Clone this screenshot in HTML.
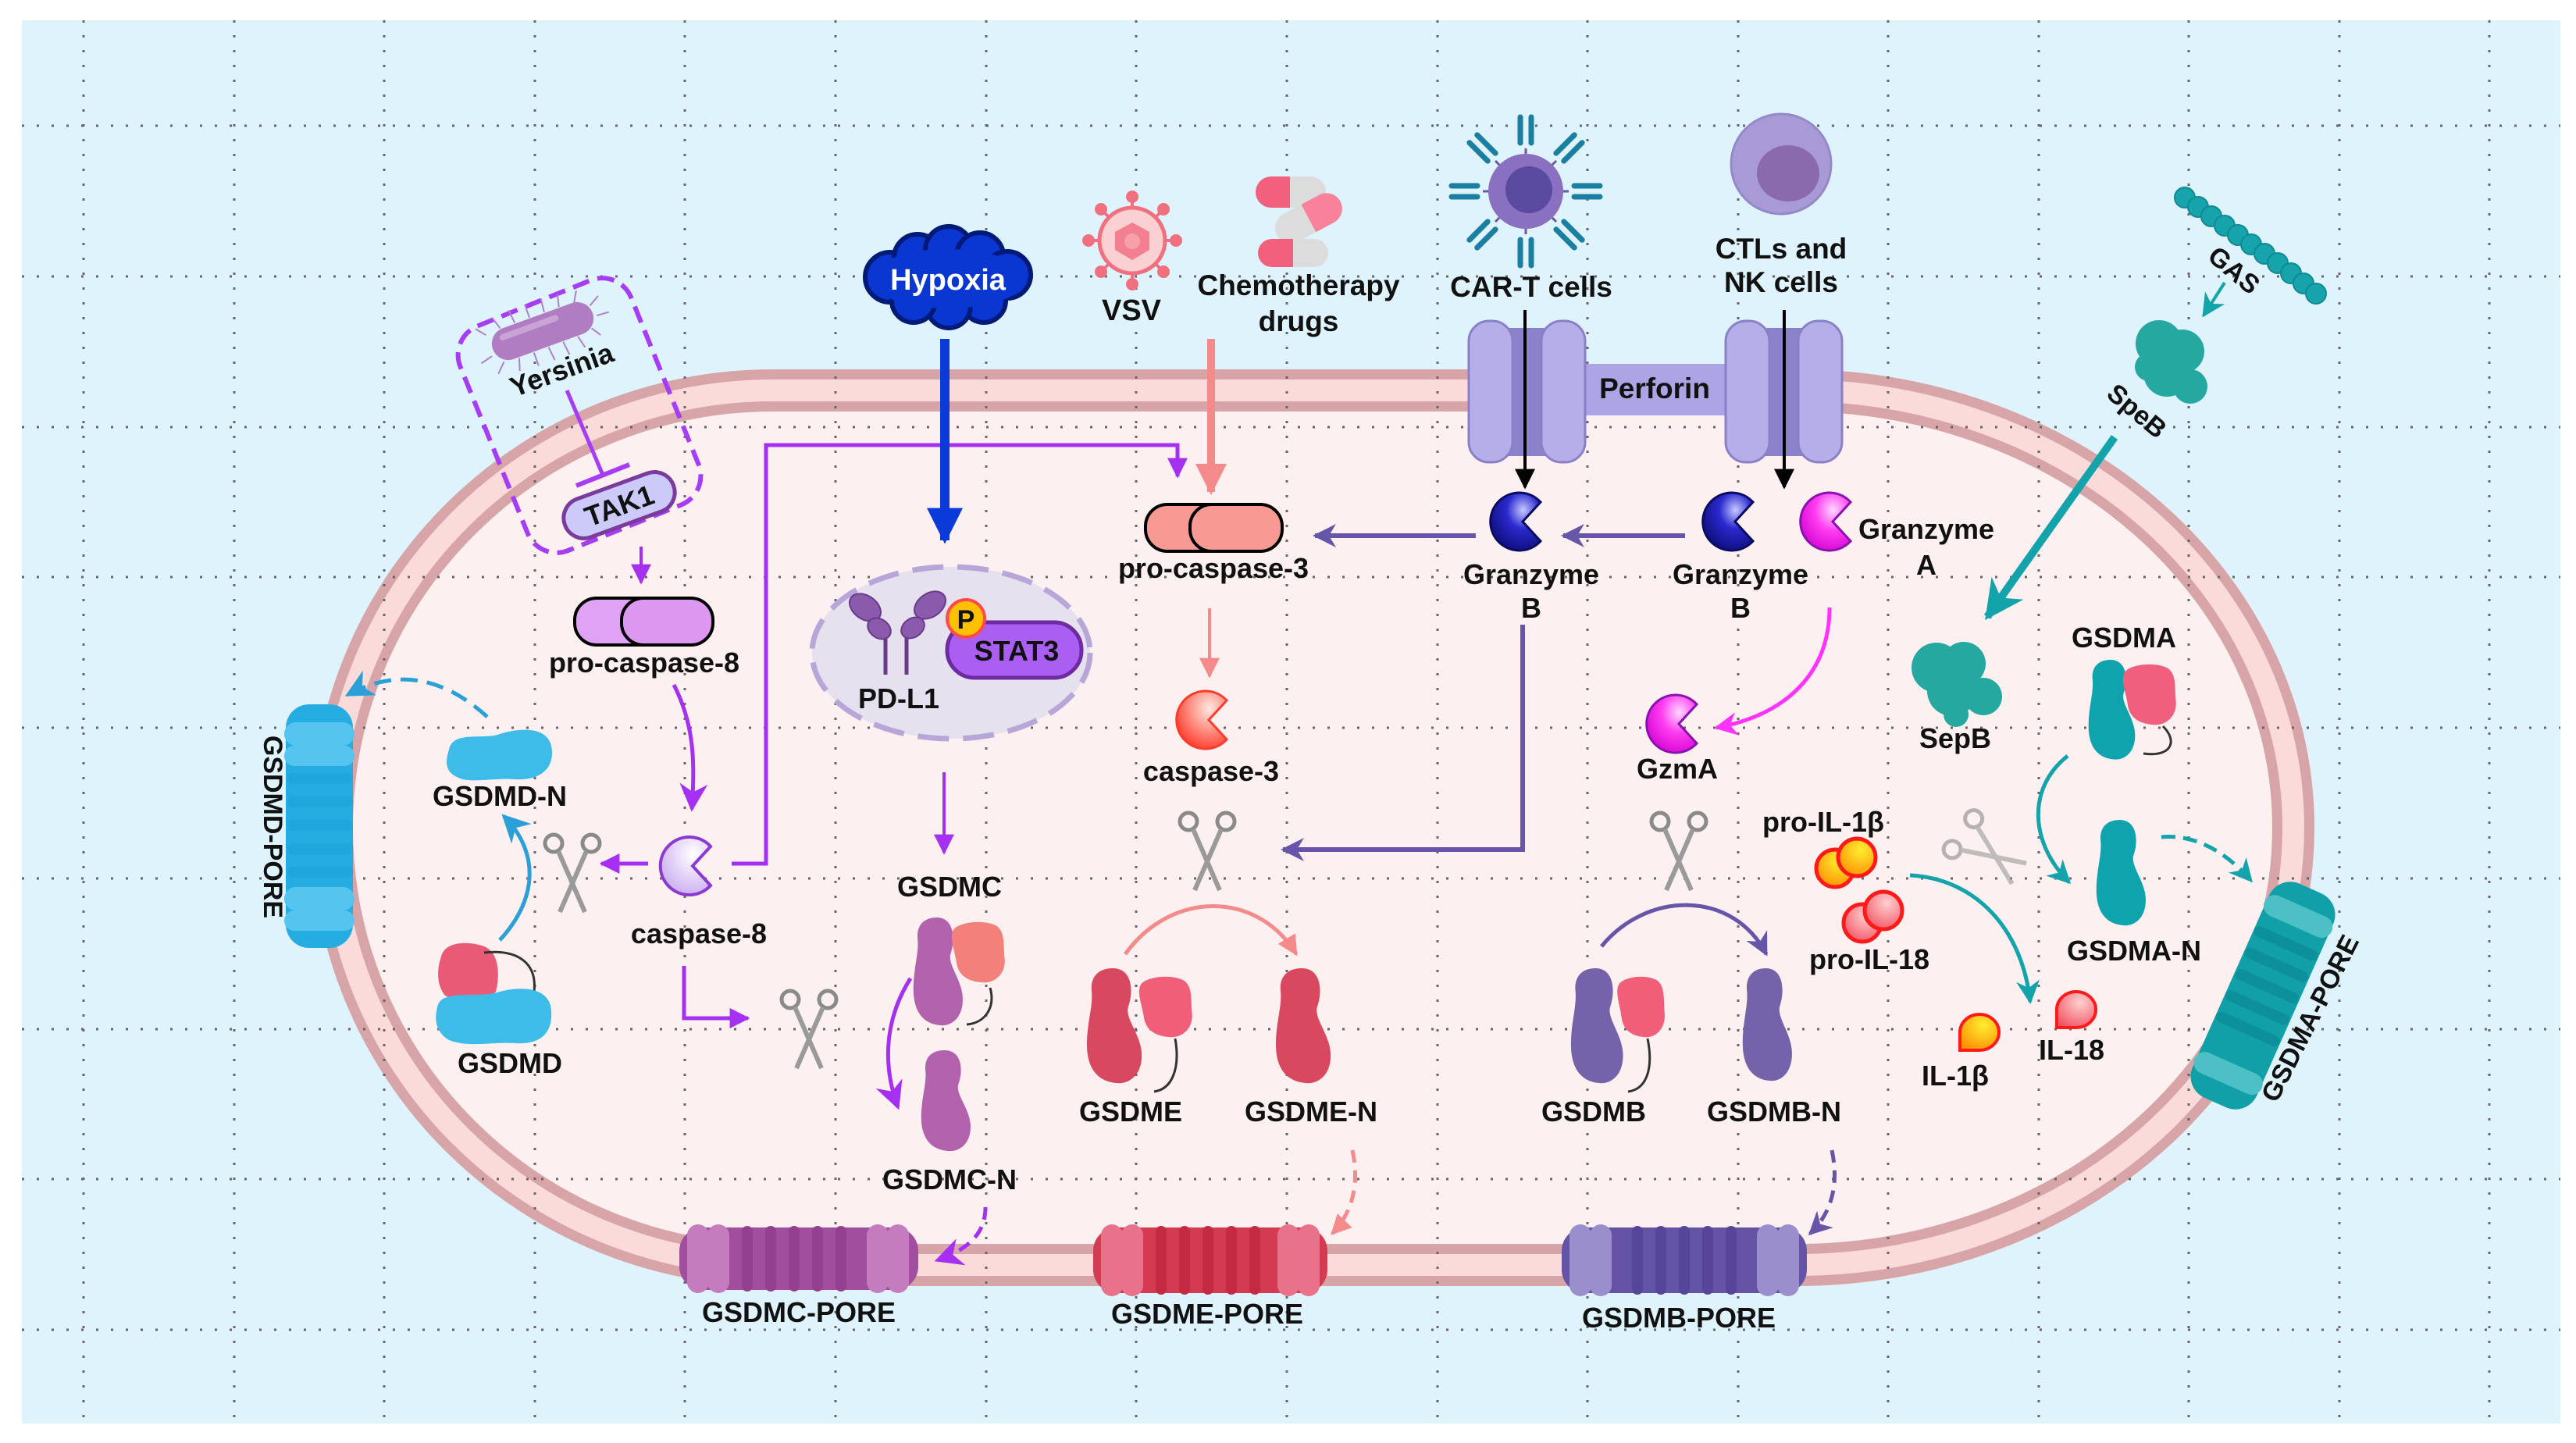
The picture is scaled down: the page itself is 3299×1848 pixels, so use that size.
<!DOCTYPE html>
<html><head><meta charset="utf-8"><style>
html,body{margin:0;padding:0;background:#fff}
svg{display:block}
text{font-family:"Liberation Sans",Arial,sans-serif;font-weight:bold;fill:#111;text-anchor:middle}
</style></head><body>
<svg width="3299" height="1848" viewBox="0 0 3299 1848" xmlns="http://www.w3.org/2000/svg">
<defs>
<marker id="mPur" viewBox="0 0 10 10" refX="9" refY="5" markerWidth="26" markerHeight="26" markerUnits="userSpaceOnUse" orient="auto"><path d="M0,0 L10,5 L0,10 Z" fill="#a530f2"/></marker>
<marker id="mPurB" viewBox="0 0 10 10" refX="9" refY="5" markerWidth="36" markerHeight="36" markerUnits="userSpaceOnUse" orient="auto"><path d="M0,0 L10,5 L0,10 L3,5 Z" fill="#a530f2"/></marker>
<marker id="mBlue" viewBox="0 0 10 10" refX="9" refY="5" markerWidth="46" markerHeight="46" markerUnits="userSpaceOnUse" orient="auto"><path d="M0,0 L10,5 L0,10 Z" fill="#0a3ad8"/></marker>
<marker id="mPink" viewBox="0 0 10 10" refX="9" refY="5" markerWidth="40" markerHeight="40" markerUnits="userSpaceOnUse" orient="auto"><path d="M0,0 L10,5 L0,10 Z" fill="#f58a8a"/></marker>
<marker id="mPinkS" viewBox="0 0 10 10" refX="9" refY="5" markerWidth="26" markerHeight="26" markerUnits="userSpaceOnUse" orient="auto"><path d="M0,0 L10,5 L0,10 Z" fill="#f58a8a"/></marker>
<marker id="mBlk" viewBox="0 0 10 10" refX="9" refY="5" markerWidth="26" markerHeight="26" markerUnits="userSpaceOnUse" orient="auto"><path d="M0,0 L10,5 L0,10 Z" fill="#000"/></marker>
<marker id="mDP" viewBox="0 0 10 10" refX="9" refY="5" markerWidth="30" markerHeight="30" markerUnits="userSpaceOnUse" orient="auto"><path d="M0,0 L10,5 L0,10 L3,5 Z" fill="#6655a8"/></marker>
<marker id="mMag" viewBox="0 0 10 10" refX="9" refY="5" markerWidth="30" markerHeight="30" markerUnits="userSpaceOnUse" orient="auto"><path d="M0,0 L10,5 L0,10 L3,5 Z" fill="#ff33ff"/></marker>
<marker id="mTeal" viewBox="0 0 10 10" refX="9" refY="5" markerWidth="30" markerHeight="30" markerUnits="userSpaceOnUse" orient="auto"><path d="M0,0 L10,5 L0,10 L3,5 Z" fill="#13a3ab"/></marker>
<marker id="mTealB" viewBox="0 0 10 10" refX="9" refY="5" markerWidth="50" markerHeight="50" markerUnits="userSpaceOnUse" orient="auto"><path d="M0,0 L10,5 L0,10 L3,5 Z" fill="#13a3ab"/></marker>
<marker id="mSky" viewBox="0 0 10 10" refX="9" refY="5" markerWidth="36" markerHeight="36" markerUnits="userSpaceOnUse" orient="auto"><path d="M0,0 L10,5 L0,10 L3,5 Z" fill="#2a9fd8"/></marker>
<radialGradient id="gB" cx="0.65" cy="0.3" r="0.8"><stop offset="0" stop-color="#c8c8ff"/><stop offset="0.4" stop-color="#2a2ad0"/><stop offset="1" stop-color="#0a0a70"/></radialGradient>
<radialGradient id="gA" cx="0.65" cy="0.3" r="0.8"><stop offset="0" stop-color="#ffd8ff"/><stop offset="0.45" stop-color="#ff3cf0"/><stop offset="1" stop-color="#d000d0"/></radialGradient>
<radialGradient id="g8" cx="0.65" cy="0.3" r="0.8"><stop offset="0" stop-color="#ffffff"/><stop offset="1" stop-color="#c8a8f0"/></radialGradient>
<radialGradient id="g3" cx="0.65" cy="0.3" r="0.8"><stop offset="0" stop-color="#ffe8e0"/><stop offset="1" stop-color="#ff3020"/></radialGradient>
<radialGradient id="gY" cx="0.6" cy="0.3" r="0.8"><stop offset="0" stop-color="#ffee30"/><stop offset="1" stop-color="#ff8a00"/></radialGradient>
<radialGradient id="gR" cx="0.6" cy="0.3" r="0.8"><stop offset="0" stop-color="#ffd0d0"/><stop offset="1" stop-color="#f05060"/></radialGradient>
<path id="pac" d="M27,-25 A37,37 0 1 0 27,25 L4,0 Z"/>
<g id="sc" fill="none" stroke="#8a8a8a" stroke-width="5">
 <circle cx="-24" cy="-38" r="11"/><circle cx="24" cy="-38" r="11"/>
 <path d="M-18,-28 L16,50 M18,-28 L-16,50" stroke="#9a9a9a" stroke-width="6"/>
</g>
<path id="nl" d="M35,0 C60,0 62,30 55,50 C50,65 70,85 72,110 C74,140 55,152 40,150 C15,148 2,130 2,100 C2,70 10,50 8,30 C6,10 18,0 35,0 Z"/>
<path id="cl" d="M0,10 C10,0 40,-2 55,5 C70,12 66,35 68,50 C70,70 55,85 35,82 C15,80 5,70 3,55 C1,40 -8,20 0,10 Z"/>
</defs>

<rect x="0" y="0" width="3299" height="1848" fill="#fff"/>
<rect x="28" y="26" width="3251" height="1797" fill="#dff3fd"/>

<path d="M990,500 L2300,500 A637,560 0 0 1 2300,1620 L990,1620 A565,560 0 0 1 990,500 Z" fill="#fdf0f0" stroke="#d7a5a7" stroke-width="54"/>
<path d="M990,500 L2300,500 A637,560 0 0 1 2300,1620 L990,1620 A565,560 0 0 1 990,500 Z" fill="none" stroke="#fbdada" stroke-width="28"/>

<g stroke="#666" stroke-width="3" stroke-dasharray="3 16" fill="none">
<path d="M107,26V1823 M300,26V1823 M492,26V1823 M685,26V1823 M877,26V1823 M1070,26V1823 M1263,26V1823 M1455,26V1823 M1648,26V1823 M1841,26V1823 M2033,26V1823 M2226,26V1823 M2418,26V1823 M2611,26V1823 M2803,26V1823 M2996,26V1823 M3188,26V1823"/>
<path d="M28,161H3279 M28,354H3279 M28,547H3279 M28,739H3279 M28,932H3279 M28,1125H3279 M28,1318H3279 M28,1510H3279 M28,1703H3279"/>
</g>

<g transform="translate(742,532) rotate(-22)">
<rect x="-118" y="-155" width="236" height="310" rx="40" fill="none" stroke="#a63cf5" stroke-width="6" stroke-dasharray="22 11"/>
</g>
<g transform="translate(695,424) rotate(-20)">
 <g stroke="#b080c8" stroke-width="2">
 <path d="M-70,-20 L-80,-32 M-50,-22 L-55,-38 M-30,-22 L-32,-40 M-10,-22 L-10,-40 M10,-22 L12,-40 M30,-22 L34,-38 M50,-20 L58,-34 M68,-10 L82,-18 M72,5 L88,6 M-72,8 L-88,12 M-60,20 L-72,32 M-40,22 L-45,38 M-20,22 L-20,40 M0,22 L2,40 M20,22 L22,40 M40,22 L44,38 M60,18 L68,30"/>
 </g>
 <rect x="-68" y="-21" width="136" height="42" rx="21" fill="#b07dc2"/>
 <rect x="-55" y="-14" width="80" height="8" rx="4" fill="#c9a2d6"/>
</g>
<text x="719" y="486" font-size="36" transform="rotate(-20 719 473)">Yersinia</text>
<line x1="726" y1="500" x2="771" y2="606" stroke="#a63cf5" stroke-width="5"/>
<line x1="738" y1="622" x2="806" y2="595" stroke="#a63cf5" stroke-width="6"/>
<g transform="translate(793,647) rotate(-20)">
<rect x="-74" y="-26" width="148" height="52" rx="26" fill="#cbcaf8" stroke="#7a3a9e" stroke-width="5"/>
</g>
<text x="793" y="660" font-size="36" transform="rotate(-20 793 647)">TAK1</text>
<line x1="821" y1="700" x2="821" y2="746" stroke="#a530f2" stroke-width="4" marker-end="url(#mPur)"/>

<rect x="736" y="766" width="110" height="60" rx="28" fill="#e0a2f4" stroke="#000" stroke-width="4"/>
<rect x="796" y="766" width="117" height="60" rx="28" fill="#dc98f0" stroke="#000" stroke-width="4"/>
<text x="825" y="861" font-size="36">pro-caspase-8</text>
<path d="M863,877 C890,930 890,980 886,1036" fill="none" stroke="#a530f2" stroke-width="5" marker-end="url(#mPurB)"/>

<use href="#pac" x="883" y="1109" fill="url(#g8)" stroke="#8a3ad0" stroke-width="4"/>
<text x="895" y="1208" font-size="36">caspase-8</text>
<line x1="830" y1="1106" x2="770" y2="1106" stroke="#a530f2" stroke-width="5" marker-end="url(#mPur)"/>
<use href="#sc" x="733" y="1118"/>
<polyline points="937,1106 981,1106 981,570 1508,570 1508,610" fill="none" stroke="#a530f2" stroke-width="5" marker-end="url(#mPur)"/>
<polyline points="876,1237 876,1304 958,1304" fill="none" stroke="#a530f2" stroke-width="5" marker-end="url(#mPur)"/>
<use href="#sc" x="1036" y="1318"/>

<path d="M575,960 C580,935 620,948 640,940 C665,932 700,930 706,955 C712,985 690,1000 660,998 C630,996 600,1004 585,995 C570,988 570,975 575,960 Z" fill="#3dbbe9"/>
<text x="640" y="1032" font-size="36">GSDMD-N</text>
<path d="M640,1204 C690,1150 690,1090 645,1045" fill="none" stroke="#2a9fd8" stroke-width="5" marker-end="url(#mSky)"/>
<path d="M624,918 C560,860 500,860 445,890" fill="none" stroke="#2a9fd8" stroke-width="5" stroke-dasharray="22 12" marker-end="url(#mSky)"/>
<path d="M565,1225 C570,1205 600,1205 620,1212 C640,1220 640,1250 635,1270 C620,1285 590,1285 570,1275 C558,1260 560,1240 565,1225 Z" fill="#e85a75"/>
<path d="M620,1220 C665,1215 688,1235 684,1270" fill="none" stroke="#333" stroke-width="3"/>
<path d="M560,1290 C565,1265 610,1280 640,1270 C670,1262 705,1265 706,1295 C708,1325 690,1338 660,1336 C630,1334 600,1342 575,1332 C558,1322 556,1305 560,1290 Z" fill="#3dbbe9"/>
<text x="653" y="1374" font-size="36">GSDMD</text>
<g>
<rect x="366" y="902" width="86" height="312" rx="30" fill="#25ade2"/>
<g fill="#55c4ee">
<rect x="364" y="925" width="90" height="30" rx="15"/><rect x="364" y="955" width="90" height="26" rx="13"/>
<rect x="364" y="1136" width="90" height="30" rx="15"/><rect x="364" y="1166" width="90" height="26" rx="13"/>
</g>
<g fill="#1fa6dc"><rect x="368" y="990" width="84" height="14" rx="7"/><rect x="368" y="1020" width="84" height="14" rx="7"/><rect x="368" y="1050" width="84" height="14" rx="7"/><rect x="368" y="1080" width="84" height="14" rx="7"/><rect x="368" y="1110" width="84" height="14" rx="7"/></g>
</g>
<text x="325" y="1072" font-size="34" transform="rotate(90 338 1072)">GSDMD-PORE</text>

<g fill="#0a36d2" stroke="#001a78" stroke-width="6">
<circle cx="1140" cy="355" r="32"/><circle cx="1175" cy="330" r="30"/><circle cx="1215" cy="320" r="30"/><circle cx="1255" cy="328" r="30"/><circle cx="1290" cy="352" r="30"/><circle cx="1260" cy="385" r="28"/><circle cx="1215" cy="392" r="28"/><circle cx="1170" cy="385" r="28"/>
</g>
<ellipse cx="1214" cy="357" rx="100" ry="38" fill="#0a36d2"/>
<text x="1214" y="371" font-size="38" style="fill:#fff">Hypoxia</text>
<line x1="1210" y1="434" x2="1210" y2="692" stroke="#0a3ad8" stroke-width="12" marker-end="url(#mBlue)"/>

<g stroke="#f07080" stroke-width="4" fill="#f07080">
<line x1="1450" y1="250" x2="1450" y2="366"/><line x1="1392" y1="308" x2="1508" y2="308"/>
<line x1="1409" y1="267" x2="1491" y2="349"/><line x1="1491" y1="267" x2="1409" y2="349"/>
<circle cx="1450" cy="252" r="6"/><circle cx="1450" cy="364" r="6"/><circle cx="1394" cy="308" r="6"/><circle cx="1506" cy="308" r="6"/>
<circle cx="1410" cy="268" r="6"/><circle cx="1490" cy="268" r="6"/><circle cx="1410" cy="348" r="6"/><circle cx="1490" cy="348" r="6"/>
</g>
<circle cx="1450" cy="308" r="42" fill="#fbd0d2" stroke="#f07080" stroke-width="5"/>
<polygon points="1450,285 1472,297 1472,320 1450,333 1428,320 1428,297" fill="#f28090"/>
<circle cx="1450" cy="309" r="10" fill="#f8a0aa"/>
<text x="1449" y="410" font-size="38">VSV</text>

<g>
<rect x="1608" y="226" width="90" height="40" rx="20" fill="#dcdcdc"/><path d="M1628,226 H1652 V266 H1628 A20,20 0 0 1 1628,226 Z" fill="#f2607e"/>
<g transform="rotate(-28 1675 280)"><rect x="1630" y="260" width="92" height="40" rx="20" fill="#dcdcdc"/><path d="M1676,260 H1702 A20,20 0 0 1 1702,300 H1676 Z" fill="#f7829a"/></g>
<rect x="1611" y="306" width="90" height="36" rx="18" fill="#dcdcdc"/><path d="M1629,306 H1656 V342 H1629 A18,18 0 0 1 1629,306 Z" fill="#f2607e"/>
</g>
<text x="1663" y="378" font-size="37">Chemotherapy</text>
<text x="1663" y="424" font-size="37">drugs</text>
<line x1="1551" y1="434" x2="1551" y2="630" stroke="#f58a8a" stroke-width="10" marker-end="url(#mPink)"/>

<rect x="1467" y="646" width="110" height="60" rx="28" fill="#f89a94" stroke="#000" stroke-width="4"/>
<rect x="1524" y="646" width="118" height="60" rx="28" fill="#f89a94" stroke="#000" stroke-width="4"/>
<text x="1554" y="740" font-size="36">pro-caspase-3</text>
<line x1="1549" y1="779" x2="1549" y2="866" stroke="#f58a8a" stroke-width="4" marker-end="url(#mPinkS)"/>
<use href="#pac" x="1544" y="922" fill="url(#g3)" stroke="#ff3a2a" stroke-width="3"/>
<text x="1551" y="1000" font-size="36">caspase-3</text>
<use href="#sc" x="1546" y="1090"/>

<ellipse cx="1218" cy="836" rx="178" ry="110" fill="#e6e1ee" stroke="#b9a6d9" stroke-width="7" stroke-dasharray="40 18"/>
<g fill="#8a5aac" stroke="#6a3a8a" stroke-width="2">
<line x1="1134" y1="812" x2="1134" y2="864" stroke-width="5"/><line x1="1161" y1="812" x2="1161" y2="864" stroke-width="5"/>
<ellipse cx="1108" cy="778" rx="22" ry="15" transform="rotate(35 1108 778)"/><ellipse cx="1126" cy="805" rx="16" ry="12" transform="rotate(35 1126 805)"/>
<ellipse cx="1191" cy="775" rx="22" ry="15" transform="rotate(-35 1191 775)"/><ellipse cx="1169" cy="804" rx="16" ry="12" transform="rotate(-35 1169 804)"/>
</g>
<rect x="1213" y="797" width="172" height="71" rx="35" fill="#aa5ef2" stroke="#6d2ba2" stroke-width="5"/>
<text x="1302" y="846" font-size="36">STAT3</text>
<circle cx="1237" cy="792" r="24" fill="#ffc000" stroke="#ff4a4a" stroke-width="4"/>
<text x="1237" y="805" font-size="34">P</text>
<text x="1151" y="907" font-size="36">PD-L1</text>
<line x1="1209" y1="989" x2="1209" y2="1092" stroke="#a530f2" stroke-width="4" marker-end="url(#mPur)"/>

<g stroke="#1a7fa0" stroke-width="7" stroke-linecap="round">
<g id="rc"><line x1="1947" y1="150" x2="1947" y2="183"/><line x1="1961" y1="150" x2="1961" y2="183"/></g>
<use href="#rc" transform="rotate(45 1954 245)"/><use href="#rc" transform="rotate(90 1954 245)"/><use href="#rc" transform="rotate(135 1954 245)"/>
<use href="#rc" transform="rotate(180 1954 245)"/><use href="#rc" transform="rotate(225 1954 245)"/><use href="#rc" transform="rotate(270 1954 245)"/><use href="#rc" transform="rotate(315 1954 245)"/>
</g>
<g stroke="#6a5aa0" stroke-width="3"><line x1="1954" y1="190" x2="1954" y2="300"/><line x1="1899" y1="245" x2="2009" y2="245"/><line x1="1915" y1="206" x2="1993" y2="284"/><line x1="1993" y1="206" x2="1915" y2="284"/></g>
<circle cx="1954" cy="245" r="48" fill="#8a70c0"/>
<circle cx="1958" cy="243" r="30" fill="#5a4aa0"/>
<text x="1961" y="380" font-size="37">CAR-T cells</text>

<circle cx="2281" cy="210" r="64" fill="#a89ad4" stroke="#9488c8" stroke-width="3"/>
<ellipse cx="2290" cy="222" rx="40" ry="36" fill="#8a6aaa"/>
<text x="2281" y="331" font-size="37">CTLs and</text>
<text x="2281" y="374" font-size="37">NK cells</text>

<rect x="2025" y="466" width="190" height="66" fill="#aca4e4"/>
<text x="2119" y="510" font-size="37">Perforin</text>
<g>
<rect x="1925" y="420" width="60" height="164" fill="#8c82cc"/>
<rect x="1881" y="411" width="56" height="181" rx="26" fill="#b6aee8" stroke="#8a80c8" stroke-width="3"/>
<rect x="1974" y="411" width="56" height="181" rx="26" fill="#b6aee8" stroke="#8a80c8" stroke-width="3"/>
<rect x="2257" y="420" width="60" height="164" fill="#8c82cc"/>
<rect x="2210" y="411" width="56" height="181" rx="26" fill="#b6aee8" stroke="#8a80c8" stroke-width="3"/>
<rect x="2303" y="411" width="56" height="181" rx="26" fill="#b6aee8" stroke="#8a80c8" stroke-width="3"/>
</g>
<line x1="1953" y1="397" x2="1953" y2="624" stroke="#000" stroke-width="4" marker-end="url(#mBlk)"/>
<line x1="2285" y1="397" x2="2285" y2="624" stroke="#000" stroke-width="4" marker-end="url(#mBlk)"/>

<use href="#pac" x="1946" y="668" fill="url(#gB)" stroke="#0a0a60" stroke-width="3"/>
<use href="#pac" x="2218" y="668" fill="url(#gB)" stroke="#0a0a60" stroke-width="3"/>
<use href="#pac" x="2343" y="668" fill="url(#gA)" stroke="#8a10b0" stroke-width="3"/>
<text x="1961" y="748" font-size="36">Granzyme</text><text x="1961" y="791" font-size="36">B</text>
<text x="2229" y="748" font-size="36">Granzyme</text><text x="2229" y="791" font-size="36">B</text>
<text x="2467" y="690" font-size="36">Granzyme</text><text x="2467" y="736" font-size="36">A</text>
<line x1="2158" y1="686" x2="2002" y2="686" stroke="#6655a8" stroke-width="6" marker-end="url(#mDP)"/>
<line x1="1890" y1="686" x2="1684" y2="686" stroke="#6655a8" stroke-width="6" marker-end="url(#mDP)"/>
<polyline points="1950,800 1950,1088 1643,1088" fill="none" stroke="#6655a8" stroke-width="6" marker-end="url(#mDP)"/>
<path d="M2343,778 C2343,860 2290,915 2198,932" fill="none" stroke="#ff33ff" stroke-width="5" marker-end="url(#mMag)"/>
<use href="#pac" x="2146" y="927" fill="url(#gA)" stroke="#8a10b0" stroke-width="3"/>
<text x="2148" y="997" font-size="36">GzmA</text>
<use href="#sc" x="2150" y="1090"/>

<g fill="#17a3ab" stroke="#0f8a92" stroke-width="2">
<circle cx="2798" cy="253" r="13"/><circle cx="2815" cy="265" r="13"/><circle cx="2832" cy="277" r="13"/><circle cx="2849" cy="289" r="13"/><circle cx="2866" cy="301" r="13"/><circle cx="2883" cy="313" r="13"/><circle cx="2900" cy="325" r="13"/><circle cx="2917" cy="337" r="13"/><circle cx="2934" cy="350" r="13"/><circle cx="2950" cy="363" r="13"/><circle cx="2966" cy="376" r="13"/>
</g>
<text x="2862" y="358" font-size="34" transform="rotate(40 2862 345)">GAS</text>
<line x1="2849" y1="362" x2="2822" y2="404" stroke="#13a3ab" stroke-width="4" marker-end="url(#mTeal)"/>
<g fill="#25a8a0"><circle cx="2765" cy="440" r="30"/><circle cx="2795" cy="450" r="28"/><circle cx="2775" cy="478" r="30"/><circle cx="2805" cy="495" r="22"/><circle cx="2752" cy="470" r="18"/></g>
<text x="2737" y="538" font-size="34" transform="rotate(40 2737 526)">SpeB</text>
<line x1="2708" y1="560" x2="2545" y2="790" stroke="#13a3ab" stroke-width="10" marker-end="url(#mTealB)"/>
<g fill="#25a8a0"><circle cx="2480" cy="855" r="32"/><circle cx="2515" cy="850" r="28"/><circle cx="2500" cy="885" r="32"/><circle cx="2540" cy="892" r="24"/><circle cx="2505" cy="915" r="16"/></g>
<text x="2504" y="958" font-size="36">SepB</text>

<text x="2720" y="829" font-size="36">GSDMA</text>
<use href="#nl" transform="translate(2673,845) scale(0.85)" fill="#0fa3ae"/>
<use href="#cl" transform="translate(2722,850) scale(0.95)" fill="#f0607e"/>
<path d="M2770,930 C2790,950 2780,970 2745,965" fill="none" stroke="#333" stroke-width="3"/>
<path d="M2648,968 C2595,1010 2600,1080 2650,1130" fill="none" stroke="#13a3ab" stroke-width="5" marker-end="url(#mTeal)"/>
<g opacity="0.6"><use href="#sc" transform="translate(2545,1090) rotate(-55)"/></g>
<use href="#nl" transform="translate(2683,1050) scale(0.9)" fill="#0fa3ae"/>
<text x="2733" y="1230" font-size="36">GSDMA-N</text>
<path d="M2768,1072 C2810,1068 2850,1090 2883,1128" fill="none" stroke="#13a3ab" stroke-width="5" stroke-dasharray="18 10" marker-end="url(#mTeal)"/>
<g transform="translate(2898,1275) rotate(24)">
<rect x="-45" y="-150" width="90" height="300" rx="30" fill="#12a0a8"/>
<g fill="#4cc0c4"><rect x="-47" y="-125" width="94" height="28" rx="14"/><rect x="-47" y="95" width="94" height="28" rx="14"/></g>
<g fill="#0c909a"><rect x="-44" y="-80" width="88" height="14" rx="7"/><rect x="-44" y="-50" width="88" height="14" rx="7"/><rect x="-44" y="-20" width="88" height="14" rx="7"/><rect x="-44" y="10" width="88" height="14" rx="7"/><rect x="-44" y="40" width="88" height="14" rx="7"/></g>
</g>
<text x="2958" y="1316" font-size="34" transform="rotate(-63 2958 1304)">GSDMA-PORE</text>

<text x="2335" y="1065" font-size="36">pro-IL-1β</text>
<g stroke="#ff1a1a" stroke-width="5"><circle cx="2350" cy="1112" r="24" fill="url(#gY)"/><circle cx="2378" cy="1098" r="24" fill="url(#gY)"/>
<circle cx="2385" cy="1182" r="24" fill="url(#gR)"/><circle cx="2412" cy="1166" r="24" fill="url(#gR)"/></g>
<text x="2394" y="1241" font-size="36">pro-IL-18</text>
<path d="M2446,1121 C2530,1125 2590,1190 2600,1283" fill="none" stroke="#13a3ab" stroke-width="5" marker-end="url(#mTeal)"/>
<path d="M2510,1345 L2510,1322 A25,23 0 1 1 2535,1345 Z" fill="url(#gY)" stroke="#ff1a1a" stroke-width="4"/>
<text x="2504" y="1390" font-size="36">IL-1β</text>
<path d="M2634,1316 L2634,1294 A25,23 0 1 1 2659,1316 Z" fill="url(#gR)" stroke="#ff1a1a" stroke-width="4"/>
<text x="2653" y="1357" font-size="36">IL-18</text>

<text x="1216" y="1148" font-size="36">GSDMC</text>
<use href="#nl" transform="translate(1168,1175) scale(0.9,0.92)" fill="#b262ac"/>
<use href="#cl" transform="translate(1222,1180) scale(0.95)" fill="#f4807a"/>
<path d="M1268,1265 C1275,1290 1262,1310 1238,1312" fill="none" stroke="#333" stroke-width="3"/>
<path d="M1166,1253 C1130,1310 1132,1370 1150,1418" fill="none" stroke="#a530f2" stroke-width="5" marker-end="url(#mPurB)"/>
<use href="#nl" transform="translate(1178,1345) scale(0.9,0.86)" fill="#b262ac"/>
<text x="1216" y="1523" font-size="36">GSDMC-N</text>
<path d="M1262,1546 C1262,1580 1240,1600 1200,1614" fill="none" stroke="#a530f2" stroke-width="5" stroke-dasharray="16 10" marker-end="url(#mPurB)"/>

<path d="M1441,1222 C1500,1140 1610,1140 1660,1222" fill="none" stroke="#f58a8a" stroke-width="5" marker-end="url(#mPinkS)"/>
<use href="#nl" transform="translate(1390,1240) scale(1,0.98)" fill="#d8485e"/>
<use href="#cl" transform="translate(1462,1250) scale(0.95)" fill="#f05e78"/>
<path d="M1505,1330 C1512,1370 1500,1395 1478,1398" fill="none" stroke="#333" stroke-width="3"/>
<text x="1448" y="1436" font-size="36">GSDME</text>
<use href="#nl" transform="translate(1632,1240) scale(1,0.98)" fill="#d8485e"/>
<text x="1679" y="1436" font-size="36">GSDME-N</text>
<path d="M1732,1473 C1742,1520 1730,1555 1706,1580" fill="none" stroke="#f58a8a" stroke-width="5" stroke-dasharray="16 10" marker-end="url(#mPinkS)"/>

<path d="M2051,1212 C2110,1140 2220,1140 2262,1222" fill="none" stroke="#6655a8" stroke-width="5" marker-end="url(#mDP)"/>
<use href="#nl" transform="translate(2010,1240) scale(0.95,0.98)" fill="#7463ab"/>
<use href="#cl" transform="translate(2074,1250) scale(0.85,0.95)" fill="#f05e78"/>
<path d="M2110,1330 C2118,1370 2108,1395 2085,1398" fill="none" stroke="#333" stroke-width="3"/>
<text x="2041" y="1436" font-size="36">GSDMB</text>
<use href="#nl" transform="translate(2230,1240) scale(0.9,0.96)" fill="#7463ab"/>
<text x="2272" y="1436" font-size="36">GSDMB-N</text>
<path d="M2346,1473 C2356,1520 2344,1555 2318,1580" fill="none" stroke="#6655a8" stroke-width="5" stroke-dasharray="16 10" marker-end="url(#mDP)"/>

<g>
<rect x="870" y="1572" width="306" height="80" rx="30" fill="#a24e9e"/>
<g fill="#c57cbf"><rect x="880" y="1568" width="28" height="88" rx="14"/><rect x="906" y="1568" width="28" height="88" rx="14"/><rect x="1110" y="1568" width="28" height="88" rx="14"/><rect x="1136" y="1568" width="28" height="88" rx="14"/></g>
<g fill="#944090"><rect x="950" y="1570" width="14" height="84" rx="7"/><rect x="980" y="1570" width="14" height="84" rx="7"/><rect x="1010" y="1570" width="14" height="84" rx="7"/><rect x="1040" y="1570" width="14" height="84" rx="7"/><rect x="1070" y="1570" width="14" height="84" rx="7"/></g>
</g>
<text x="1023" y="1693" font-size="36">GSDMC-PORE</text>
<g>
<rect x="1400" y="1572" width="300" height="84" rx="30" fill="#d43a52"/>
<g fill="#e8728a"><rect x="1410" y="1568" width="28" height="92" rx="14"/><rect x="1436" y="1568" width="28" height="92" rx="14"/><rect x="1636" y="1568" width="28" height="92" rx="14"/><rect x="1662" y="1568" width="28" height="92" rx="14"/></g>
<g fill="#c42a44"><rect x="1480" y="1570" width="14" height="88" rx="7"/><rect x="1510" y="1570" width="14" height="88" rx="7"/><rect x="1540" y="1570" width="14" height="88" rx="7"/><rect x="1570" y="1570" width="14" height="88" rx="7"/><rect x="1600" y="1570" width="14" height="88" rx="7"/></g>
</g>
<text x="1546" y="1695" font-size="36">GSDME-PORE</text>
<g>
<rect x="2000" y="1572" width="314" height="84" rx="30" fill="#6554a6"/>
<g fill="#9a8ecc"><rect x="2010" y="1568" width="28" height="92" rx="14"/><rect x="2036" y="1568" width="28" height="92" rx="14"/><rect x="2250" y="1568" width="28" height="92" rx="14"/><rect x="2276" y="1568" width="28" height="92" rx="14"/></g>
<g fill="#56469a"><rect x="2090" y="1570" width="14" height="88" rx="7"/><rect x="2120" y="1570" width="14" height="88" rx="7"/><rect x="2150" y="1570" width="14" height="88" rx="7"/><rect x="2180" y="1570" width="14" height="88" rx="7"/><rect x="2210" y="1570" width="14" height="88" rx="7"/></g>
</g>
<text x="2150" y="1700" font-size="36">GSDMB-PORE</text>
</svg>
</body></html>
